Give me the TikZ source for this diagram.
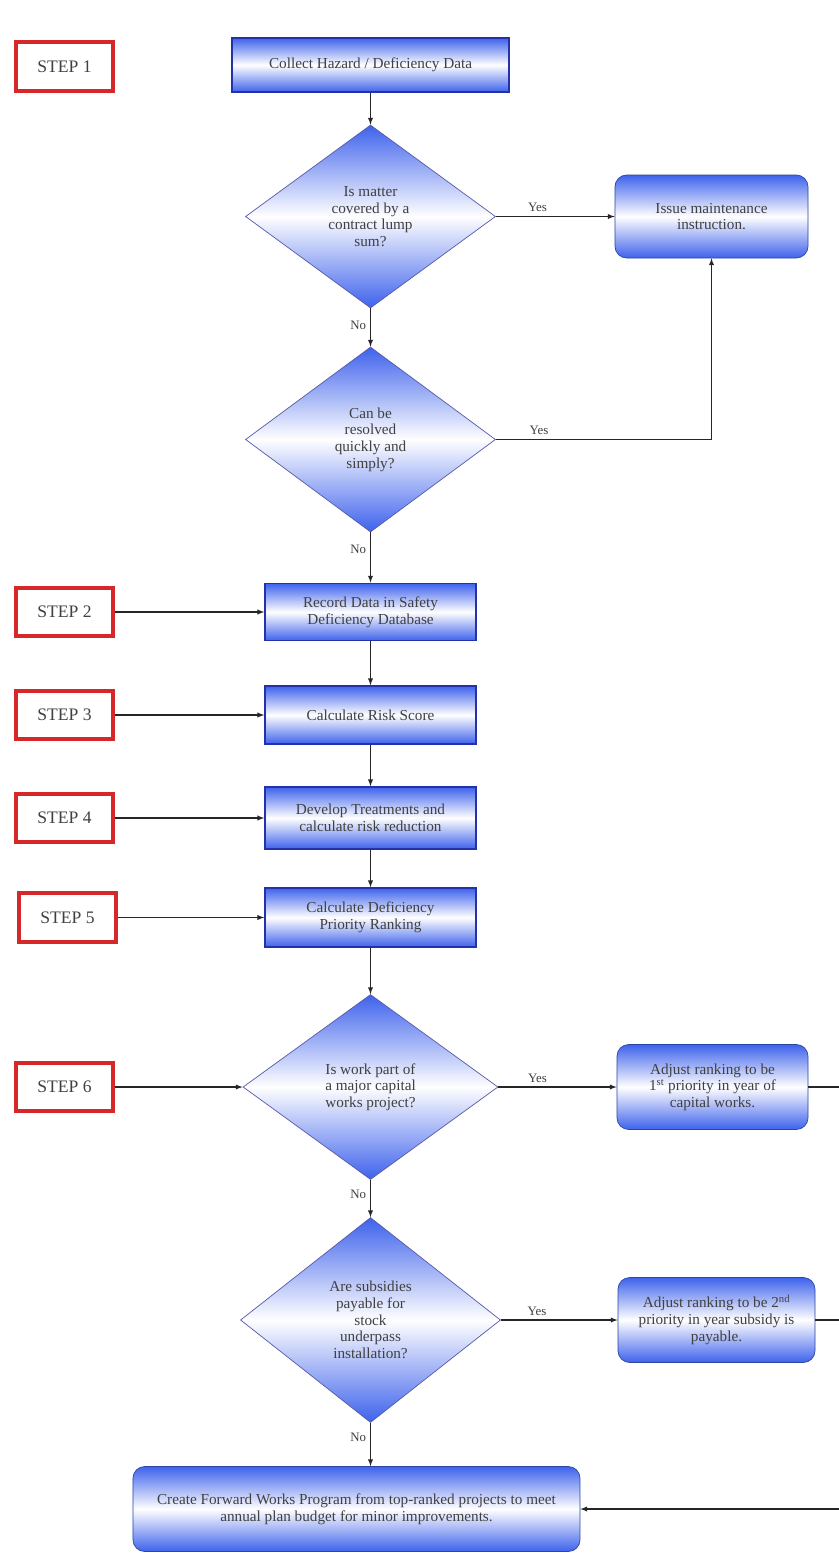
\documentclass[tikz,border=0pt]{standalone}
\usepackage{fontspec}
\setmainfont{Liberation Serif}
\usetikzlibrary{shapes.geometric}

\definecolor{flowblue}{RGB}{62,98,236}
\definecolor{edgeblue}{RGB}{35,50,170}
\definecolor{stepred}{RGB}{214,40,40}

\tikzset{
	stepbox/.style={draw=stepred,line width=3.5pt,fill=white,minimum width=2.9cm,minimum height=1.45cm,font=\fontsize{15}{17}\selectfont},
	procbox/.style={draw=edgeblue,line width=1.3pt,top color=flowblue,bottom color=flowblue,middle color=white,align=center,minimum width=6.33cm,minimum height=1.72cm},
	roundbox/.style={draw=flowblue!70!black,line width=0.6pt,rounded corners=10pt,top color=flowblue,bottom color=flowblue,middle color=white,align=center},
	decision/.style={diamond,draw=gray!70!blue,line width=0.6pt,top color=flowblue,bottom color=flowblue,middle color=white,align=center,inner sep=0pt},
	yesno/.style={font=\fontsize{11}{13}\selectfont},
}

\begin{document}
\begin{tikzpicture}[x=0.03cm,y=-0.03cm,>=latex,font=\fontsize{13}{14.2}\selectfont,text=black!75]
	\useasboundingbox (0,0) rectangle (839,1555);
	\clip (0,0) rectangle (839,1555);
	\fill[white] (0,0) rectangle (839,1555);

	% steps
	\node[stepbox] (S1) at (64.5,66.5)  {STEP 1};
	\node[stepbox] (S2) at (64.5,612)   {STEP 2};
	\node[stepbox] (S3) at (64.5,715)   {STEP 3};
	\node[stepbox] (S4) at (64.5,818)   {STEP 4};
	\node[stepbox] (S5) at (67.5,917.5) {STEP 5};
	\node[stepbox] (S6) at (64.5,1087)  {STEP 6};

	% main column
	\node[procbox,minimum width=8.31cm,minimum height=1.62cm] (collect) at (370.5,65) {Collect Hazard / Deficiency Data};
	\node[decision,minimum width=7.5cm,minimum height=5.49cm] (D1) at (370.5,216.5) {Is matter\\covered by a\\contract lump\\sum?};
	\node[roundbox,minimum width=5.79cm,minimum height=2.49cm] (issue) at (711.5,216.5) {Issue maintenance\\instruction.};
	\node[decision,minimum width=7.5cm,minimum height=5.55cm] (D2) at (370.5,439.5) {Can be\\resolved\\quickly and\\simply?};
	\node[procbox] (record) at (370.5,612) {Record Data in Safety\\Deficiency Database};
	\node[procbox,minimum height=1.74cm] (risk) at (370.5,715) {Calculate Risk Score};
	\node[procbox,minimum height=1.86cm] (develop) at (370.5,818) {Develop Treatments and\\calculate risk reduction};
	\node[procbox,minimum height=1.77cm] (rank) at (370.5,917.5) {Calculate Deficiency\\Priority Ranking};
	\node[decision,minimum width=7.65cm,minimum height=5.55cm] (D3) at (370.5,1087) {Is work part of\\a major capital\\works project?};
	\node[roundbox,minimum width=5.73cm,minimum height=2.55cm] (adj1) at (712.5,1087) {Adjust ranking to be\\1\textsuperscript{st} priority in year of\\capital works.};
	\node[decision,minimum width=7.8cm,minimum height=6.15cm] (D4) at (370.5,1320) {Are subsidies\\payable for\\stock\\underpass\\installation?};
	\node[roundbox,minimum width=5.91cm,minimum height=2.55cm] (adj2) at (716.5,1320) {Adjust ranking to be 2\textsuperscript{nd}\\priority in year subsidy is\\payable.};
	\node[roundbox,minimum width=13.41cm,minimum height=2.55cm] (create) at (356.5,1509) {Create Forward Works Program from top-ranked projects to meet\\annual plan budget for minor improvements.};
	\coordinate (rt) at (860,1509);

	% connectors
	\begin{scope}[line width=1pt,draw=black!85]
	\draw[->] (collect) -- (D1);
	\draw[->] (D1) -- node[yesno,above,pos=0.35] {Yes} (issue);
	\draw[->] (D1) -- node[yesno,left,pos=0.45] {No} (D2);
	\draw[->] (D2.east) -| node[yesno,above,pos=0.1] {Yes} (issue.south);
	\draw[->] (D2) -- node[yesno,left,pos=0.33] {No} (record);
	\draw[->] (record) -- (risk);
	\draw[->] (risk) -- (develop);
	\draw[->] (develop) -- (rank);
	\draw[->] (rank) -- (D3);
	\draw[->] (D3) -- node[yesno,above,pos=0.33] {Yes} (adj1);
	\draw[->] (D3) -- node[yesno,left,pos=0.4] {No} (D4);
	\draw[->] (D4) -- node[yesno,above,pos=0.31] {Yes} (adj2);
	\draw[->] (D4.south) -- node[yesno,left,pos=0.33] {No} (D4.south |- create.north);
	\draw (adj1) -| (rt);
	\draw (adj2) -| (rt);
	\draw[->] (rt) -- (create);
	\foreach \s/\t in {S2/record,S3/risk,S4/develop,S5/rank,S6/D3}
		\draw[->] (\s) -- (\t);
	\end{scope}
\end{tikzpicture}
\end{document}
